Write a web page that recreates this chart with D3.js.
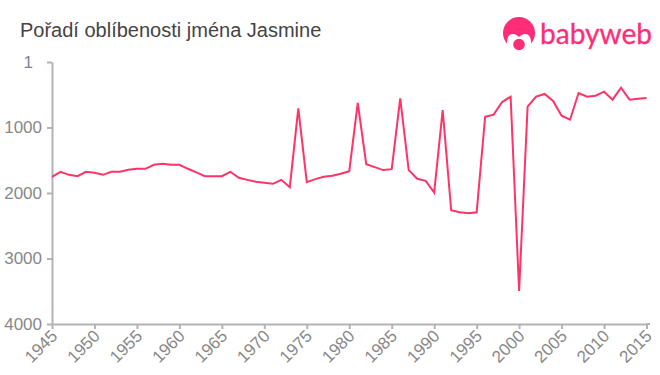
<!DOCTYPE html>
<html>
<head>
<meta charset="utf-8">
<script src="https://cdn.jsdelivr.net/npm/d3@7"></script>
<style>
  html, body { margin: 0; padding: 0; background: #fff; }
  svg { display: block; }
  text { font-family: "Liberation Sans", Arial, sans-serif; }
</style>
</head>
<body>
<div id="chart"></div>
<script>
// values, one rank per year
let years = d3.range(1945, 2016);
let ranks = [
  1753, 1677, 1723, 1743, 1677, 1692, 1723, 1677, 1677, 1646,
  1631, 1631, 1570, 1555, 1570, 1570, 1631, 1685, 1743, 1743,
  1743, 1677, 1768, 1800, 1830, 1845, 1860, 1800, 1911, 708,
  1835, 1789, 1753, 1738, 1707, 1667, 625, 1560, 1606, 1651,
  1636, 555, 1651, 1784, 1815, 1993, 734, 2263, 2294, 2309,
  2294, 836, 805, 612, 530, 3497, 683, 530, 489, 596,
  821, 882, 474, 530, 515, 454, 576, 393, 576, 561,
  550
];
let xTicks = d3.range(1945, 2016, 5);
let yTicks = [1, 1000, 2000, 3000, 4000];
let title = "Pořadí oblíbenosti jména Jasmine";

let w = 660, h = 375;
let pink = "#ff3366";
let logoPink = "#ff2d78";
let axisGrey = "#b3b3b3";
let labelGrey = "#888888";

let viz = d3.select("#chart")
  .append("svg")
    .attr("width", w)
    .attr("height", h)
;

let xScale = d3.scaleLinear().domain([1945, 2015]).range([52, 646.5]);
let yScale = d3.scaleLinear().domain([1, 4000]).range([62, 324]);

viz.append("text")
    .attr("x", 20)
    .attr("y", 37)
    .attr("font-size", 20)
    .attr("fill", "#444444")
    .text(title)
;

// axes
let xAxis = d3.axisBottom(xScale)
  .tickValues(xTicks)
  .tickFormat(d3.format("d"))
  .tickSize(5)
  .tickSizeOuter(0)
;
let xAxisGroup = viz.append("g")
    .attr("class", "xaxisgroup")
    .attr("transform", "translate(0,324)")
    .call(xAxis)
;
xAxisGroup.selectAll("text")
    .attr("font-size", 17)
    .attr("fill", labelGrey)
    .attr("text-anchor", "end")
    .attr("x", 0)
    .attr("y", 0)
    .attr("dy", 0)
    .attr("transform", "translate(6,13) rotate(-45)")
;
// the bottom line runs a little past the last tick
xAxisGroup.append("line")
    .attr("x1", xScale.range()[1])
    .attr("x2", xScale.range()[1] + 3.5)
    .attr("stroke", axisGrey)
    .attr("stroke-width", 2)
;

let yAxis = d3.axisLeft(yScale)
  .tickValues(yTicks)
  .tickFormat(d3.format("d"))
  .tickSize(5)
  .tickSizeOuter(0)
;
let yAxisGroup = viz.append("g")
    .attr("class", "yaxisgroup")
    .attr("transform", "translate(52,0)")
    .call(yAxis)
;
yAxisGroup.selectAll("text")
    .attr("font-size", 17)
    .attr("fill", labelGrey)
    .attr("x", -10)
;
// the top label sits further left and reads darker in the reference
yAxisGroup.selectAll("text")
    .filter(function(d){ return d == 1 })
    .attr("x", -19)
    .attr("fill", "#7c8598")
;

viz.selectAll(".domain, .tick line")
    .attr("stroke", axisGrey)
    .attr("stroke-width", 2)
;

// the line
let lineMaker = d3.line()
  .x(function(d, i){ return xScale(years[i]) })
  .y(function(d){ return yScale(d) })
;
viz.append("path")
    .datum(ranks)
    .attr("class", "line")
    .attr("fill", "none")
    .attr("stroke", pink)
    .attr("stroke-width", 2)
    .attr("d", lineMaker)
;

// logo
let logo = viz.append("g").attr("class", "logo");
logo.append("circle")
    .attr("cx", 519).attr("cy", 33).attr("r", 16)
    .attr("fill", logoPink)
;
logo.append("path")
    .attr("d", "M507 51 L507 41 Q508 33 514 34 Q517 35 519 37 Q521 35 524 34 Q530 33 531 41 L531 51 Z")
    .attr("fill", "#fff")
;
logo.append("circle")
    .attr("cx", 519).attr("cy", 44.5).attr("r", 5.8)
    .attr("fill", logoPink)
;
logo.append("text")
    .attr("x", 540)
    .attr("y", 44)
    .attr("font-size", 28)
    .attr("textLength", 112)
    .attr("lengthAdjust", "spacingAndGlyphs")
    .attr("fill", logoPink)
    .attr("stroke", logoPink)
    .attr("stroke-width", 0.3)
    .style("font-family", "Lato, sans-serif")
    .text("babyweb")
;
</script>
</body>
</html>
